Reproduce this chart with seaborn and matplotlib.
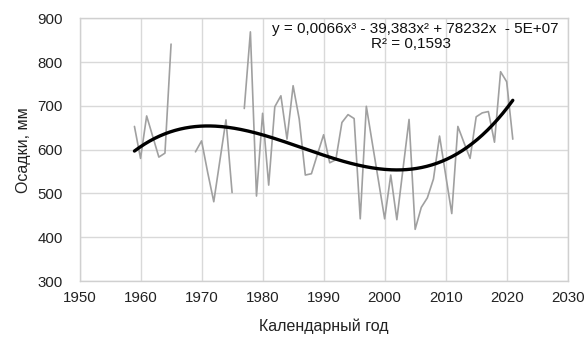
import numpy as np
import pandas as pd
import matplotlib
matplotlib.use("Agg")
import matplotlib.pyplot as plt
import seaborn as sns

# Annual precipitation, mm (gaps: 1966-1968, 1976)
years_a = [1959, 1960, 1961, 1962, 1963, 1964, 1965]
precip_a = [653, 580, 677, 630, 583, 592, 841]

years_b = [1969, 1970, 1971, 1972, 1973, 1974, 1975]
precip_b = [595, 620, 548, 481, 575, 668, 502]

years_c = list(range(1977, 2022))
precip_c = [694, 869, 494, 683, 519, 698, 723, 624, 746, 670, 542, 545,
            590, 634, 570, 577, 662, 680, 671, 442, 699, 613, 528, 442,
            542, 440, 555, 669, 418, 468, 490, 533, 631, 542, 454, 653,
            616, 580, 675, 684, 687, 617, 778, 755, 624]

x_ticks = list(range(1950, 2031, 10))
y_ticks = list(range(300, 901, 100))
eq_line = "y = 0,0066x³ - 39,383x² + 78232x  - 5E+07"
r2_line = "R² = 0,1593"

frames = []
for seg, (yrs, vals) in enumerate([(years_a, precip_a), (years_b, precip_b), (years_c, precip_c)]):
    frames.append(pd.DataFrame({"year": yrs, "precip": vals, "seg": seg}))
df = pd.concat(frames, ignore_index=True)

# Third-order polynomial trend
coef = np.polyfit(df["year"] - 1990, df["precip"], 3)
trend_years = np.linspace(1959, 2021, 300)
trend = pd.DataFrame({"year": trend_years,
                      "precip": np.polyval(coef, trend_years - 1990)})

sns.set_theme(style="white")
plt.rcParams["font.family"] = ["Liberation Sans", "DejaVu Sans"]

fig = plt.figure(figsize=(5.86, 3.45), dpi=100)
ax = fig.add_axes([0.1357, 0.1855, 0.8331, 0.7615])

sns.lineplot(data=df, x="year", y="precip", units="seg", estimator=None,
             color="#a0a0a0", linewidth=1.2, ax=ax, legend=False)
sns.lineplot(data=trend, x="year", y="precip", color="black",
             linewidth=2.4, ax=ax, legend=False)

ax.set_xlim(1950, 2030)
ax.set_ylim(300, 900)
ax.set_xticks(x_ticks)
ax.set_yticks(y_ticks)
ax.tick_params(axis="both", length=0, labelsize=10.8, colors="#222222")
ax.tick_params(axis="y", pad=12)
ax.tick_params(axis="x", pad=7)
ax.grid(True, color="#d9d9d9", linewidth=1.0)
ax.set_axisbelow(True)
for side in ["top", "right", "left", "bottom"]:
    ax.spines[side].set_color("#d0d0d0")
    ax.spines[side].set_linewidth(1.0)

ax.set_xlabel("Календарный год", fontsize=11.5, color="#222222", labelpad=10)
ax.set_ylabel("Осадки, мм", fontsize=11.5, color="#222222", labelpad=4.5)

ax.text(0.687, 0.944, eq_line, transform=ax.transAxes, ha="center",
        va="baseline", fontsize=11, color="#111111")
ax.text(0.680, 0.887, r2_line, transform=ax.transAxes, ha="center",
        va="baseline", fontsize=11, color="#111111")

fig.savefig("out.png", dpi=100)
